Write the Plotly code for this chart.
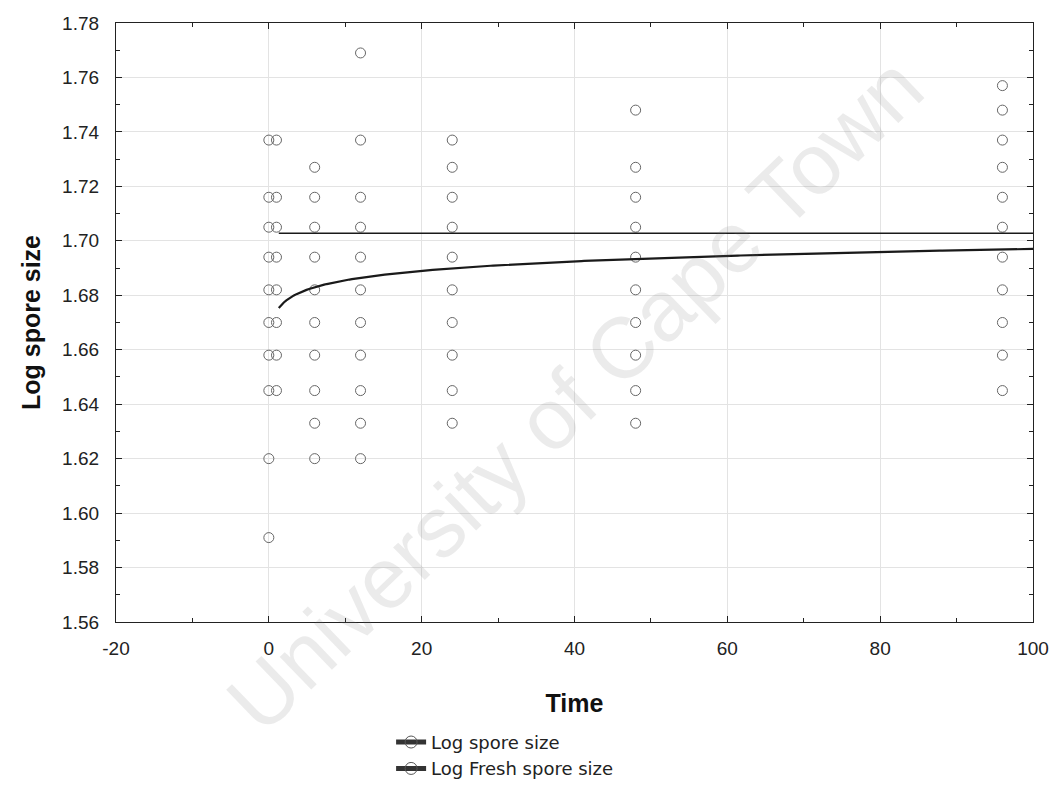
import numpy as np
import plotly.graph_objects as go

# ---- data ----
spore_times = [0, 6, 12, 24, 48, 96]
spore_values = [
    [1.737, 1.716, 1.705, 1.694, 1.682, 1.670, 1.658, 1.645, 1.620, 1.591],
    [1.727, 1.716, 1.705, 1.694, 1.682, 1.670, 1.658, 1.645, 1.633, 1.620],
    [1.769, 1.737, 1.716, 1.705, 1.694, 1.682, 1.670, 1.658, 1.645, 1.633, 1.620],
    [1.737, 1.727, 1.716, 1.705, 1.694, 1.682, 1.670, 1.658, 1.645, 1.633],
    [1.748, 1.727, 1.716, 1.705, 1.694, 1.682, 1.670, 1.658, 1.645, 1.633],
    [1.757, 1.748, 1.737, 1.727, 1.716, 1.705, 1.694, 1.682, 1.670, 1.658, 1.645],
]
fresh_time = 1
fresh_values = [1.737, 1.716, 1.705, 1.694, 1.682, 1.670, 1.658, 1.645]

# fitted models
log_fit_a = 1.674      # y = a + b*ln(t)
log_fit_b = 0.005
fresh_fit_level = 1.7028
fit_t_start, fit_t_end = 1.3, 100

x_ticks = [-20, 0, 20, 40, 60, 80, 100]
y_ticks = [1.56, 1.58, 1.60, 1.62, 1.64, 1.66, 1.68, 1.70, 1.72, 1.74, 1.76, 1.78]

# ---- build traces ----
sx, sy = [], []
for t, vals in zip(spore_times, spore_values):
    sx += [t] * len(vals)
    sy += vals

fx = [fresh_time] * len(fresh_values)

t_fit = np.linspace(fit_t_start, fit_t_end, 300)
y_fit = log_fit_a + log_fit_b * np.log(t_fit)

marker = dict(symbol="circle-open", size=10, color="#666666", line=dict(width=1))

fig = go.Figure()
fig.add_trace(go.Scatter(x=sx, y=sy, mode="markers", marker=marker, showlegend=False))
fig.add_trace(go.Scatter(x=fx, y=fresh_values, mode="markers", marker=marker, showlegend=False))
fig.add_trace(go.Scatter(x=t_fit, y=y_fit, mode="lines",
                         line=dict(color="#1a1a1a", width=2.2), showlegend=False))
fig.add_trace(go.Scatter(x=[fit_t_start, fit_t_end], y=[fresh_fit_level, fresh_fit_level],
                         mode="lines", line=dict(color="#1a1a1a", width=1.5), showlegend=False))
# legend entries
fig.add_trace(go.Scatter(x=[None], y=[None], mode="lines+markers", name="Log spore size",
                         line=dict(color="#333", width=1),
                         marker=dict(symbol="circle-open", size=7, color="#555")))
fig.add_trace(go.Scatter(x=[None], y=[None], mode="lines+markers", name="Log Fresh spore size",
                         line=dict(color="#333", width=1),
                         marker=dict(symbol="circle-open", size=7, color="#555")))

axis_common = dict(
    showline=True, linecolor="#222", linewidth=1.2, mirror="ticks",
    ticks="inside", ticklen=6, tickcolor="#222",
    showgrid=True, gridcolor="#e3e3e3", gridwidth=1, zeroline=False,
    tickfont=dict(family="Liberation Sans, Arial, sans-serif", size=19, color="#222"),
)

fig.update_xaxes(
    range=[-20, 100], tickvals=x_ticks, ticktext=[str(v) for v in x_ticks],
    ticklabelstandoff=9,
    minor=dict(dtick=10, ticklen=4, ticks="inside", tickcolor="#222", showgrid=False),
    title=dict(text="<b>Time</b>", standoff=36,
               font=dict(family="Liberation Sans, Arial, sans-serif", size=25, color="#111")),
    **axis_common,
)
fig.update_yaxes(
    range=[1.56, 1.78], tickvals=y_ticks, ticktext=[f"{v:.2f}" for v in y_ticks],
    ticklabelstandoff=12,
    minor=dict(dtick=0.01, ticklen=4, ticks="inside", tickcolor="#222", showgrid=False),
    title=dict(text="<b>Log spore size</b>", standoff=14,
               font=dict(family="Liberation Sans, Arial, sans-serif", size=25, color="#111")),
    **axis_common,
)

fig.add_annotation(
    text="University of Cape Town", xref="paper", yref="paper",
    x=0.5, y=0.38, showarrow=False, textangle=-44,
    font=dict(family="Liberation Sans, Arial, sans-serif", size=86, color="rgba(120,120,120,0.15)"),
)

fig.update_layout(
    width=1056, height=785,
    margin=dict(l=116, r=23, t=23, b=163, autoexpand=False),
    paper_bgcolor="white", plot_bgcolor="white",
    legend=dict(x=0.3, y=-0.17, xanchor="left", yanchor="top",
                font=dict(family="DejaVu Sans, Liberation Sans, sans-serif", size=18, color="#222"),
                tracegroupgap=0, itemsizing="constant", bgcolor="rgba(0,0,0,0)"),
)

fig.write_html("out.html")
